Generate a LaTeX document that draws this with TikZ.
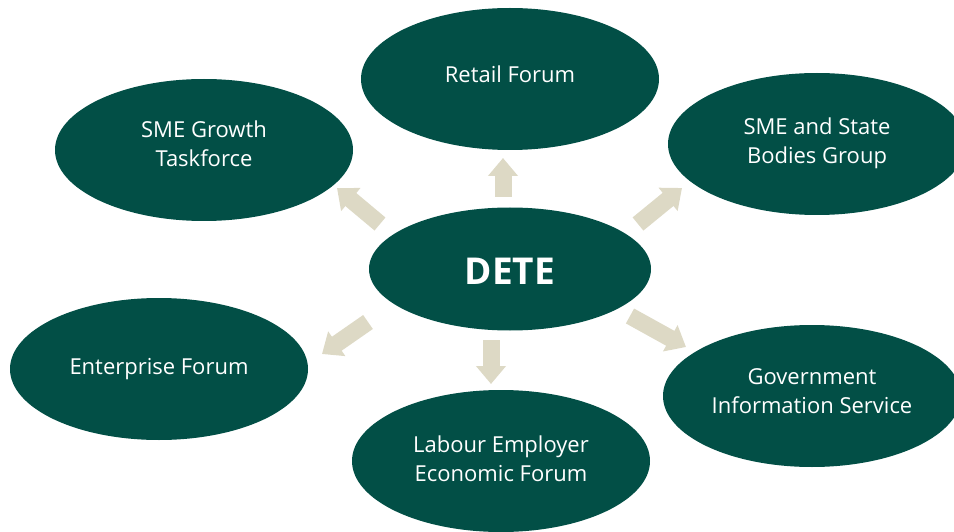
\documentclass[tikz,border=0pt]{standalone}
\usepackage{fontspec}
\setmainfont{Open Sans}
\usepackage{tikz}
\usetikzlibrary{shapes.geometric,arrows.meta}

\definecolor{deteGreen}{RGB}{2,79,70}
\definecolor{deteSand}{RGB}{221,217,197}

\tikzset{
  forum/.style={ellipse, fill=deteGreen, inner sep=0pt, minimum width=298pt, minimum height=142pt},
  forumtext/.style={text=white, align=center, inner sep=0.75pt, font=\fontsize{22}{29}\selectfont},
  flow/.style={draw=deteSand, line width=17pt, -{Triangle[length=18pt,width=29pt]}}
}

\begin{document}
\begin{tikzpicture}[x=1pt,y=1pt,yscale=-1]
\useasboundingbox (0,0) rectangle (954,532);
\clip (0,0) rectangle (954,532);

%Shape: Ellipse [centre]
\node [forum, minimum width=282pt, minimum height=123pt] (dete) at (510,269) {};
%Shape: Ellipse [ring]
\node [forum] (retail) at (510,79) {};
\node [forum] (growth) at (204,150) {};
\node [forum] (state) at (817,144) {};
\node [forum] (enterprise) at (159,369) {};
\node [forum] (labour) at (501,461) {};
\node [forum] (government) at (812,396) {};

%Arrows
\coordinate (upT) at (503,197);   \coordinate (upH) at (503,158);
\coordinate (ulT) at (380,224);   \coordinate (ulH) at (337,188);
\coordinate (urT) at (638,224);   \coordinate (urH) at (682,188);
\coordinate (llT) at (368,322);   \coordinate (llH) at (322,354);
\coordinate (lrT) at (630,316);   \coordinate (lrH) at (686,347);
\coordinate (dnT) at (491,340);   \coordinate (dnH) at (491,384);
\draw [flow] (upT) -- (upH);
\draw [flow] (ulT) -- (ulH);
\draw [flow] (urT) -- (urH);
\draw [flow] (llT) -- (llH);
\draw [flow] (lrT) -- (lrH);
\draw [flow] (dnT) -- (dnH);

% Text Node
\node [forumtext, font=\fontsize{37}{44}\selectfont\bfseries] (detetext) at ([yshift=2pt]dete.center) {DETE};
% Text Node
\node [forumtext] (retailtext) at ([yshift=-5pt]retail.center) {Retail Forum};
% Text Node
\node [forumtext] (growthtext) at ([yshift=-6pt]growth.center) {SME Growth\\Taskforce};
% Text Node
\node [forumtext] (statetext) at ([yshift=-1pt]state.center) {SME and State\\Bodies Group};
% Text Node
\node [forumtext] (enterprisetext) at (enterprise.center) {Enterprise Forum};
% Text Node
\node [forumtext] (labourtext) at ([yshift=-2pt]labour.center) {Labour Employer\\Economic Forum};
% Text Node
\node [forumtext] (governmenttext) at ([yshift=-5pt]government.center) {Government\\Information Service};

\end{tikzpicture}
\end{document}
